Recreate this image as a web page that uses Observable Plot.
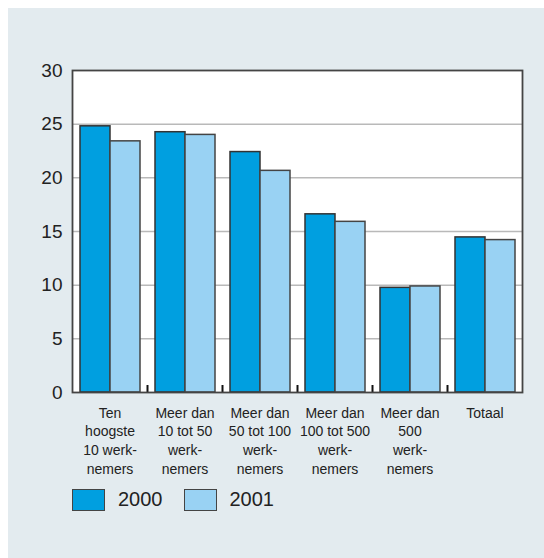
<!DOCTYPE html>
<html>
<head>
<meta charset="utf-8">
<script src="https://cdn.jsdelivr.net/npm/d3@7"></script>
<script src="https://cdn.jsdelivr.net/npm/@observablehq/plot@0.6"></script>
<style>
  html, body { margin: 0; padding: 0; background: #ffffff; width: 544px; height: 558px; overflow: hidden; }
  #panel { position: absolute; left: 8px; top: 8px; width: 536px; height: 550px; background: #e3ebef; }
  #chart { position: absolute; left: 0; top: 0; }
  #legend { position: absolute; left: 72px; top: 488px; display: flex; align-items: center; font-family: "Liberation Sans", Arial, sans-serif; font-size: 20px; color: #222; }
  .sw { width: 31px; height: 20px; border: 1.5px solid #444; box-sizing: content-box; }
  .lab { margin-left: 13px; margin-right: 21px; }
</style>
</head>
<body>
<div id="panel"></div>
<div id="chart"></div>
<div id="legend"></div>
<script>
const categories = [
  "Ten\nhoogste\n10 werk-\nnemers",
  "Meer dan\n10 tot 50\nwerk-\nnemers",
  "Meer dan\n50 tot 100\nwerk-\nnemers",
  "Meer dan\n100 tot 500\nwerk-\nnemers",
  "Meer dan\n500\nwerk-\nnemers",
  "Totaal"
];
const years = ["2000", "2001"];
const values2000 = [24.8, 24.25, 22.4, 16.6, 9.75, 14.45];
const values2001 = [23.4, 24.0, 20.65, 15.9, 9.88, 14.2];
const yTicks = [0, 5, 10, 15, 20, 25, 30];
const colors = ["#009fe0", "#99d2f3"];

const d2000 = categories.map((c, i) => ({cat: c, year: years[0], v: values2000[i]}));
const d2001 = categories.map((c, i) => ({cat: c, year: years[1], v: values2001[i]}));

const width = 544, mL = 72, mR = 22;
const band = (width - mL - mR) / categories.length;

const chart = Plot.plot({
  width: width,
  height: 480,
  marginLeft: mL,
  marginRight: mR,
  marginTop: 70,
  marginBottom: 88,
  style: {background: "transparent", fontFamily: "Liberation Sans, Arial, sans-serif", color: "#222"},
  x: {domain: categories, padding: 0, label: null},
  y: {domain: [0, 30], label: null},
  marks: [
    Plot.frame({fill: "#ffffff", stroke: "none"}),
    Plot.ruleY(yTicks.slice(1, -1), {stroke: "#b9b9b9", strokeWidth: 1.5}),
    Plot.barY(d2000, {x: "cat", y: "v", fill: colors[0], stroke: "#333", strokeWidth: 1.5, insetLeft: 8, insetRight: band - 38}),
    Plot.barY(d2001, {x: "cat", y: "v", fill: colors[1], stroke: "#444", strokeWidth: 1.5, insetLeft: 38, insetRight: 7}),
    Plot.ruleX(categories.slice(0, -1), {x: d => d, dx: band / 2, y1: 0, y2: 0.65, stroke: "#111", strokeWidth: 2}),
    Plot.frame({stroke: "#444", strokeWidth: 1.8}),
    Plot.axisY({ticks: yTicks, tickSize: 0, tickPadding: 10, fontSize: 19, label: null}),
    Plot.axisX({tickSize: 0, tickPadding: 12, fontSize: 14, lineHeight: 1.33, label: null})
  ]
});
document.getElementById("chart").appendChild(chart);

const legend = document.getElementById("legend");
years.forEach((y, i) => {
  const sw = document.createElement("div");
  sw.className = "sw";
  sw.style.background = colors[i];
  const lab = document.createElement("span");
  lab.className = "lab";
  lab.textContent = y;
  legend.appendChild(sw);
  legend.appendChild(lab);
});
</script>
</body>
</html>
